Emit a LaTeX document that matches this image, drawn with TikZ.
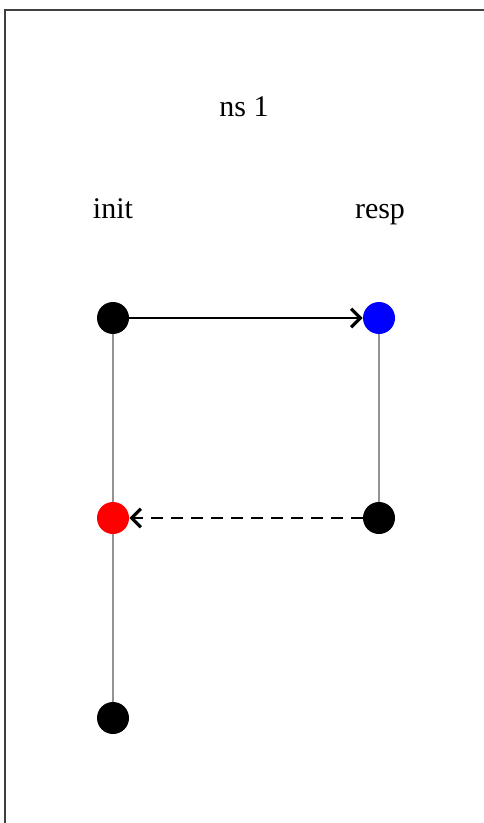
\documentclass[tikz,border=0pt]{standalone}
\usepackage{fontspec}
\setmainfont{Liberation Serif}
\usetikzlibrary{arrows.meta}
\begin{document}
\begin{tikzpicture}[x=0.75pt,y=-0.75pt,
  dot/.style={circle,inner sep=0pt,minimum size=24pt,fill=#1},
  life/.style={draw=gray!85,line width=1.2pt},
  msg/.style={draw=black,line width=2pt,-{Straight Barb[length=7pt,width=14pt,line width=2.4pt]}},
  lbl/.style={font=\fontsize{22.5pt}{26pt}\selectfont,anchor=base}]
\useasboundingbox (0,0) rectangle (484,823);
\draw[line width=2pt,draw=black!75] (5,830) -- (5,10) -- (490,10);
\node[lbl] (title) at (244,117) {ns 1};
\node[lbl] (linit) at (113,219) {init};
\node[lbl] (lresp) at (380,219) {resp};
\coordinate (i1) at (113,318);
\coordinate (i2) at (113,518);
\coordinate (i3) at (113,718);
\coordinate (r1) at (379,318);
\coordinate (r2) at (379,518);
\draw[life] (i1) -- (i3);
\draw[life] (r1) -- (r2);
\node[dot=black] (a) at (i1) {};
\node[dot=blue] (b) at (r1) {};
\node[dot=black] (c) at (r2) {};
\node[dot=red] (d) at (i2) {};
\node[dot=black] (e) at (i3) {};
\draw[msg] (a) -- (b);
\draw[msg,dash pattern=on 9pt off 6pt] (c) -- (d);
\end{tikzpicture}
\end{document}
